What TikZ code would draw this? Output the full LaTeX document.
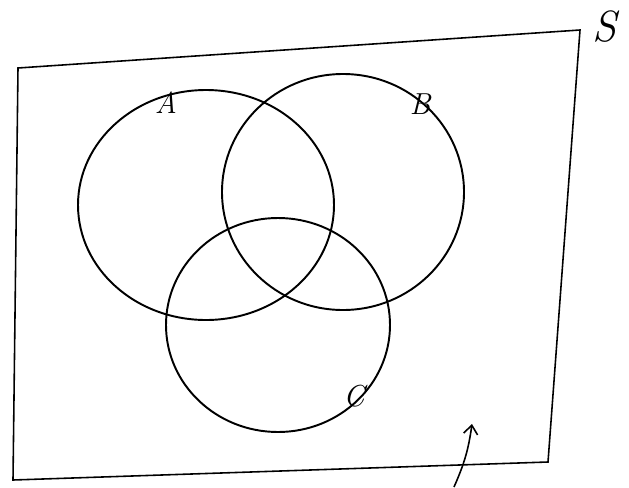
\documentclass[tikz,border=0pt]{standalone}
\usetikzlibrary{arrows.meta}
\begin{document}
\begin{tikzpicture}[x=0.02cm, y=-0.02cm, every node/.style={font=\LARGE\itshape},
  setline/.style={line width=1.1pt, line join=round, line cap=round}]
  \useasboundingbox (0,0) rectangle (629,487);

  % sample space
  \coordinate (tl) at (18,68);
  \coordinate (tr) at (580,30);
  \coordinate (br) at (548,462);
  \coordinate (bl) at (13,480);
  \draw[line width=0.9pt] (tl) -- (tr) -- (br) -- (bl) -- cycle;
  \node[font=\Huge\itshape] (S) at (605,27) {S};

  % the three sets
  \draw[setline] (206,205) ellipse [x radius=128, y radius=115];
  \draw[setline] (343,192) ellipse [x radius=121, y radius=118];
  \draw[setline] (278,325) ellipse [x radius=112, y radius=107];
  \node (A) at (166,103) {A};
  \node (B) at (420,104) {B};
  \node (C) at (354,396) {C};

  % pointer to the outside region
  \coordinate (tail) at (454,487);
  \coordinate (tip) at (472,424);
  \draw[line width=0.9pt, -{Straight Barb[length=5pt,width=8pt]}] (tail) to[bend right=8] (tip);
\end{tikzpicture}
\end{document}
